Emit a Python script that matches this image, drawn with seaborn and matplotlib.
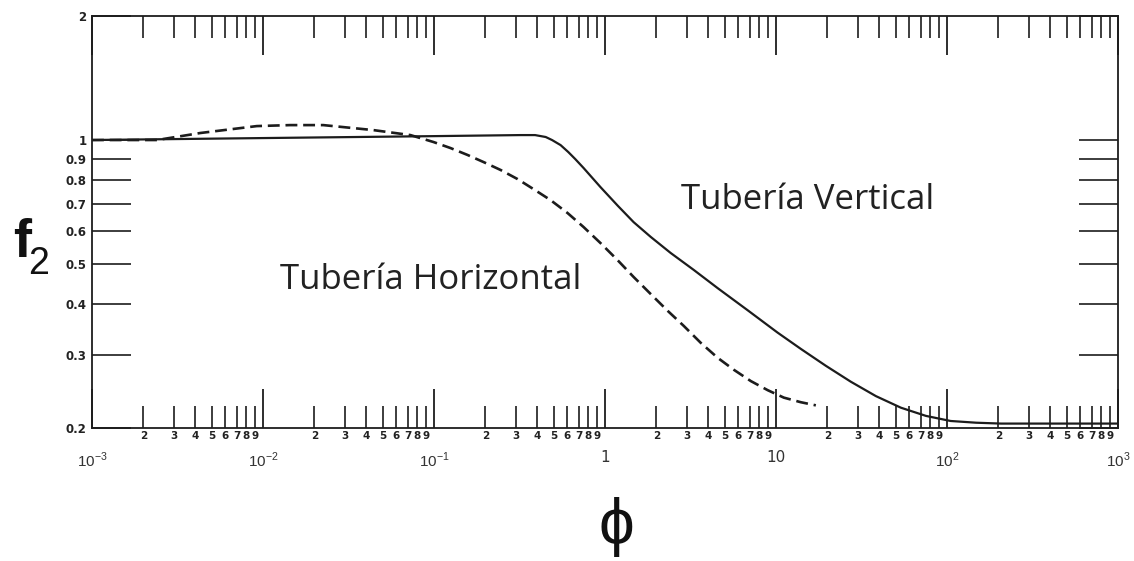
import matplotlib
matplotlib.use("Agg")
import matplotlib.pyplot as plt
import pandas as pd
import seaborn as sns
from matplotlib.ticker import FixedLocator, FixedFormatter, NullLocator

# Friction correction factor f2 versus the dimensionless group phi
phi_vertical = [0.001, 0.01, 0.1, 0.32, 0.39, 0.45, 0.49, 0.55, 0.61, 0.67, 0.75,
                0.94, 1.19, 1.47, 1.85, 2.42, 3.3, 4.56, 6.84, 10.2, 14.0, 19.6,
                27.4, 38.4, 53.8, 75.3, 105.0, 148.0, 207.0, 1000.0]
f2_vertical = [1.0, 1.011, 1.022, 1.028, 1.028, 1.017, 1.0, 0.972, 0.935, 0.899, 0.855,
               0.769, 0.692, 0.632, 0.582, 0.532, 0.484, 0.437, 0.386, 0.341, 0.311,
               0.283, 0.259, 0.239, 0.224, 0.214, 0.208, 0.206, 0.205, 0.205]

phi_horizontal = [0.001, 0.0024, 0.0043, 0.0092, 0.0144, 0.0225, 0.0442, 0.0728,
                  0.0992, 0.125, 0.157, 0.195, 0.245, 0.308, 0.382, 0.48, 0.604,
                  0.749, 0.942, 1.185, 1.471, 1.849, 2.325, 2.885, 3.628, 4.563,
                  5.662, 7.121, 8.955, 11.11, 13.97, 17.1]
f2_horizontal = [1.0, 1.0, 1.04, 1.081, 1.087, 1.087, 1.057, 1.028, 0.989, 0.956,
                 0.92, 0.884, 0.846, 0.804, 0.76, 0.715, 0.665, 0.615, 0.562, 0.511,
                 0.465, 0.423, 0.385, 0.354, 0.322, 0.296, 0.277, 0.26, 0.247,
                 0.237, 0.231, 0.227]

decade_ticks = [1e-3, 1e-2, 1e-1, 1, 10, 100, 1000]
decade_labels = [r"$10^{-3}$", r"$10^{-2}$", r"$10^{-1}$", "1", "10",
                 r"$10^{2}$", r"$10^{3}$"]
minor_digits = [2, 3, 4, 5, 6, 7, 8, 9]
f2_ticks = [0.2, 0.3, 0.4, 0.5, 0.6, 0.7, 0.8, 0.9, 1, 2]
f2_tick_labels = ["0.2", "0.3", "0.4", "0.5", "0.6", "0.7", "0.8", "0.9", "1", "2"]

label_vertical = "Tubería Vertical"
label_horizontal = "Tubería Horizontal"

sns.set_style("white")
plt.rcParams["font.family"] = ["DejaVu Sans"]
plt.rcParams["mathtext.fontset"] = "custom"
plt.rcParams["mathtext.rm"] = "Liberation Sans"
plt.rcParams["mathtext.bf"] = "Liberation Sans:bold"

W, H = 1134, 561
fig = plt.figure(figsize=(W / 100, H / 100), dpi=100)
x0, x1, ytop, ybot = 92, 1118, 16, 428
ax = fig.add_axes([x0 / W, 1 - ybot / H, (x1 - x0) / W, (ybot - ytop) / H])
ax.set_xscale("log")
ax.set_yscale("log")

ink = "#1c1c1c"
df_v = pd.DataFrame({"phi": phi_vertical, "f2": f2_vertical})
df_h = pd.DataFrame({"phi": phi_horizontal, "f2": f2_horizontal})
sns.lineplot(data=df_v, x="phi", y="f2", ax=ax, color=ink, lw=1.6,
             estimator=None, sort=False)
sns.lineplot(data=df_h, x="phi", y="f2", ax=ax, color=ink, lw=1.9,
             estimator=None, sort=False)
ax.lines[1].set_dashes((4.5, 2.2))

ax.set_xlim(1e-3, 1e3)
ax.set_ylim(0.2, 2)

# x axis: decades labelled far below, intermediate digits just under the line
minor_pos = [d * t for t in decade_ticks[:-1] for d in minor_digits]
minor_lab = [str(d) for t in decade_ticks[:-1] for d in minor_digits]
ax.xaxis.set_major_locator(FixedLocator(decade_ticks))
ax.xaxis.set_major_formatter(FixedFormatter(decade_labels))
ax.xaxis.set_minor_locator(FixedLocator(minor_pos))
ax.xaxis.set_minor_formatter(FixedFormatter(minor_lab))
ax.tick_params(axis="x", which="major", direction="in", length=28, width=1.3,
               top=True, bottom=True, labeltop=False, pad=16, labelsize=11,
               labelcolor="#333333", color=ink)
ax.tick_params(axis="x", which="minor", direction="in", length=16, width=1.2,
               top=True, bottom=True, labeltop=False, pad=2, labelsize=7.5,
               labelcolor="#222222", color=ink)

ax.yaxis.set_major_locator(FixedLocator(f2_ticks))
ax.yaxis.set_major_formatter(FixedFormatter(f2_tick_labels))
ax.yaxis.set_minor_locator(NullLocator())
ax.tick_params(axis="y", which="major", direction="in", length=28, width=1.2,
               left=True, right=True, pad=4, labelsize=8.5, labelcolor="#222222",
               color=ink)

for lbl in ax.get_xticklabels(minor=True):
    lbl.set_fontweight("bold")
    lbl.set_family(["Liberation Sans Narrow", "DejaVu Sans"])
for lbl in ax.get_yticklabels():
    lbl.set_fontweight("bold")
    lbl.set_family(["Liberation Sans Narrow", "DejaVu Sans"])

for s in ax.spines.values():
    s.set_visible(True)
    s.set_color(ink)
    s.set_linewidth(1.3)

ax.set_xlabel("ϕ", fontsize=46, color="#111111",
              family=["Liberation Sans", "DejaVu Sans"])
ax.xaxis.set_label_coords((616 - x0) / (x1 - x0), (ybot - 527) / (ybot - ytop))
ax.xaxis.label.set_va("center")
ax.set_ylabel("")

# axis symbol f with subscript 2
fig.text(22 / W, 1 - 243 / H, "f", fontsize=39, fontweight="bold",
         family=["Liberation Sans", "DejaVu Sans"], color="#111111",
         ha="center", va="center")
fig.text(39 / W, 1 - 264 / H, "2", fontsize=27,
         family=["Liberation Sans", "DejaVu Sans"], color="#111111",
         ha="center", va="center")

ax.text((808 - x0) / (x1 - x0), (ybot - 200) / (ybot - ytop), label_vertical,
        transform=ax.transAxes, ha="center", va="center", fontsize=25,
        family=["Open Sans", "DejaVu Sans"], color="#222222")
ax.text((431 - x0) / (x1 - x0), (ybot - 280) / (ybot - ytop), label_horizontal,
        transform=ax.transAxes, ha="center", va="center", fontsize=25,
        family=["Open Sans", "DejaVu Sans"], color="#222222")

fig.savefig("out.png", dpi=100, facecolor="white")
